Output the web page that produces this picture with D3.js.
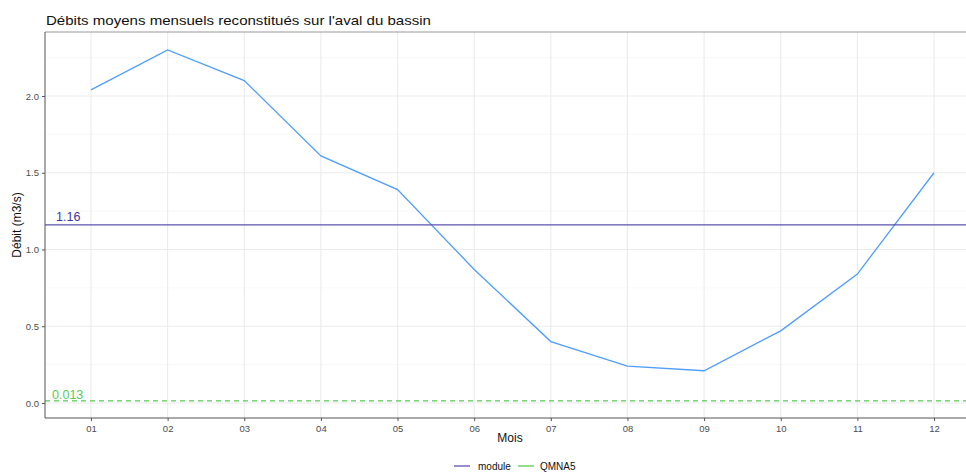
<!DOCTYPE html>
<html>
<head>
<meta charset="utf-8">
<script src="https://cdn.jsdelivr.net/npm/d3@7"></script>
<style>
  body { margin: 0; background: #fff; }
  text { font-family: "Liberation Sans", Arial, sans-serif; }
</style>
</head>
<body>
<svg id="canvas" width="966" height="472"></svg>
<script>
// data
let months = ["01", "02", "03", "04", "05", "06", "07", "08", "09", "10", "11", "12"]
let debits = [2.04, 2.30, 2.10, 1.61, 1.39, 0.87, 0.40, 0.24, 0.21, 0.47, 0.84, 1.50]
let moduleValue = 1.16
let qmna5Value = 0.013
let yTicks = [0, 0.5, 1.0, 1.5, 2.0]
let yMinorTicks = [0.25, 0.75, 1.25, 1.75, 2.25]
let legendItems = ["module", "QMNA5"]

let colors = { debit: "#4f9dff", module: "#5b52b0", moduleText: "#3b37a8", qmna5: "#55cc55" }

let svg = d3.select("#canvas")

let pLeft = 45, pRight = 966, pTop = 32, pBottom = 418

// x: month index; 01 sits at 91, 12 at 934
let x = d3.scaleLinear().domain([0.4, 12.6]).range([45, 980])
let y = d3.scaleLinear().domain([-0.098, 2.417]).range([pBottom, pTop])

let panel = svg.append("g")

// grid
panel.selectAll(".ymin")
  .data(yMinorTicks).enter().append("line")
  .attr("x1", pLeft).attr("x2", pRight)
  .attr("y1", d => y(d)).attr("y2", d => y(d))
  .attr("stroke", "#f3f3f3").attr("stroke-width", 0.6)

panel.selectAll(".ymaj")
  .data(yTicks).enter().append("line")
  .attr("x1", pLeft).attr("x2", pRight)
  .attr("y1", d => y(d)).attr("y2", d => y(d))
  .attr("stroke", "#ebebeb").attr("stroke-width", 1.1)

panel.selectAll(".xmaj")
  .data(months).enter().append("line")
  .attr("x1", (d, i) => x(i + 1)).attr("x2", (d, i) => x(i + 1))
  .attr("y1", pTop).attr("y2", pBottom)
  .attr("stroke", "#ebebeb").attr("stroke-width", 1.1)

// top border
svg.append("line")
  .attr("x1", pLeft).attr("x2", pRight)
  .attr("y1", pTop).attr("y2", pTop)
  .attr("stroke", "#999").attr("stroke-width", 1)

// debit line
let line = d3.line()
  .x((d, i) => x(i + 1))
  .y(d => y(d))

svg.append("path")
  .datum(debits)
  .attr("fill", "none")
  .attr("stroke", colors.debit)
  .attr("stroke-width", 1.3)
  .attr("d", line)

// module line
svg.append("line")
  .attr("x1", pLeft).attr("x2", pRight)
  .attr("y1", y(moduleValue)).attr("y2", y(moduleValue))
  .attr("stroke", colors.module).attr("stroke-width", 1.3)

svg.append("text")
  .attr("x", 56).attr("y", y(moduleValue) - 4)
  .attr("fill", colors.moduleText)
  .attr("font-size", 12.5)
  .text(moduleValue)

// qmna5 line
svg.append("line")
  .attr("x1", pLeft).attr("x2", pRight)
  .attr("y1", y(qmna5Value)).attr("y2", y(qmna5Value))
  .attr("stroke", colors.qmna5).attr("stroke-width", 1.3)
  .attr("stroke-dasharray", "5,4")

svg.append("text")
  .attr("x", 52).attr("y", y(qmna5Value) - 2)
  .attr("fill", colors.qmna5)
  .attr("font-size", 12.5)
  .text(qmna5Value)

// axes
let yAxis = d3.axisLeft(y)
  .tickValues(yTicks)
  .tickFormat(d3.format(".1f"))
  .tickSize(3)
  .tickPadding(3)

let yg = svg.append("g")
  .attr("transform", `translate(${pLeft},0)`)
  .call(yAxis)
yg.select(".domain").attr("d", `M0,${pTop}V${pBottom}`).attr("stroke", "#555")
yg.selectAll(".tick line").attr("stroke", "#555")
yg.selectAll(".tick text").attr("fill", "#4d4d4d").attr("font-size", 9.5)
  .style("font-family", "Liberation Sans, Arial, sans-serif")

let xAxis = d3.axisBottom(x)
  .tickValues(d3.range(1, 13))
  .tickFormat(d => months[d - 1])
  .tickSize(3)
  .tickPadding(4)

let xg = svg.append("g")
  .attr("transform", `translate(0,${pBottom})`)
  .call(xAxis)
xg.select(".domain").attr("d", `M${pLeft},0H${pRight}`).attr("stroke", "#555")
xg.selectAll(".tick line").attr("stroke", "#555")
xg.selectAll(".tick text").attr("fill", "#4d4d4d").attr("font-size", 9.5)
  .style("font-family", "Liberation Sans, Arial, sans-serif")

// titles
svg.append("text")
  .attr("x", 46).attr("y", 24.5)
  .attr("font-size", 13)
  .attr("fill", "#111")
  .attr("textLength", 385)
  .attr("lengthAdjust", "spacingAndGlyphs")
  .text("Débits moyens mensuels reconstitués sur l'aval du bassin")

svg.append("text")
  .attr("transform", `translate(21,${(pTop + pBottom) / 2}) rotate(-90)`)
  .attr("text-anchor", "middle")
  .attr("font-size", 12)
  .attr("fill", "#111")
  .text("Débit (m3/s)")

svg.append("text")
  .attr("x", 510).attr("y", 442)
  .attr("text-anchor", "middle")
  .attr("font-size", 12)
  .attr("fill", "#111")
  .text("Mois")

// legend
let legendColors = [colors.module, colors.qmna5]
let legendX = [454, 518]
let legend = svg.selectAll(".legend")
  .data(legendItems).enter().append("g")
  .attr("transform", (d, i) => `translate(${legendX[i]},466)`)

legend.append("line")
  .attr("x1", 0).attr("x2", 16)
  .attr("stroke", (d, i) => legendColors[i])
  .attr("stroke-width", 1.3)

legend.append("text")
  .attr("x", (d, i) => i === 0 ? 24 : 22).attr("y", 3.5)
  .attr("font-size", 10)
  .attr("fill", "#111")
  .text(d => d)
</script>
</body>
</html>
